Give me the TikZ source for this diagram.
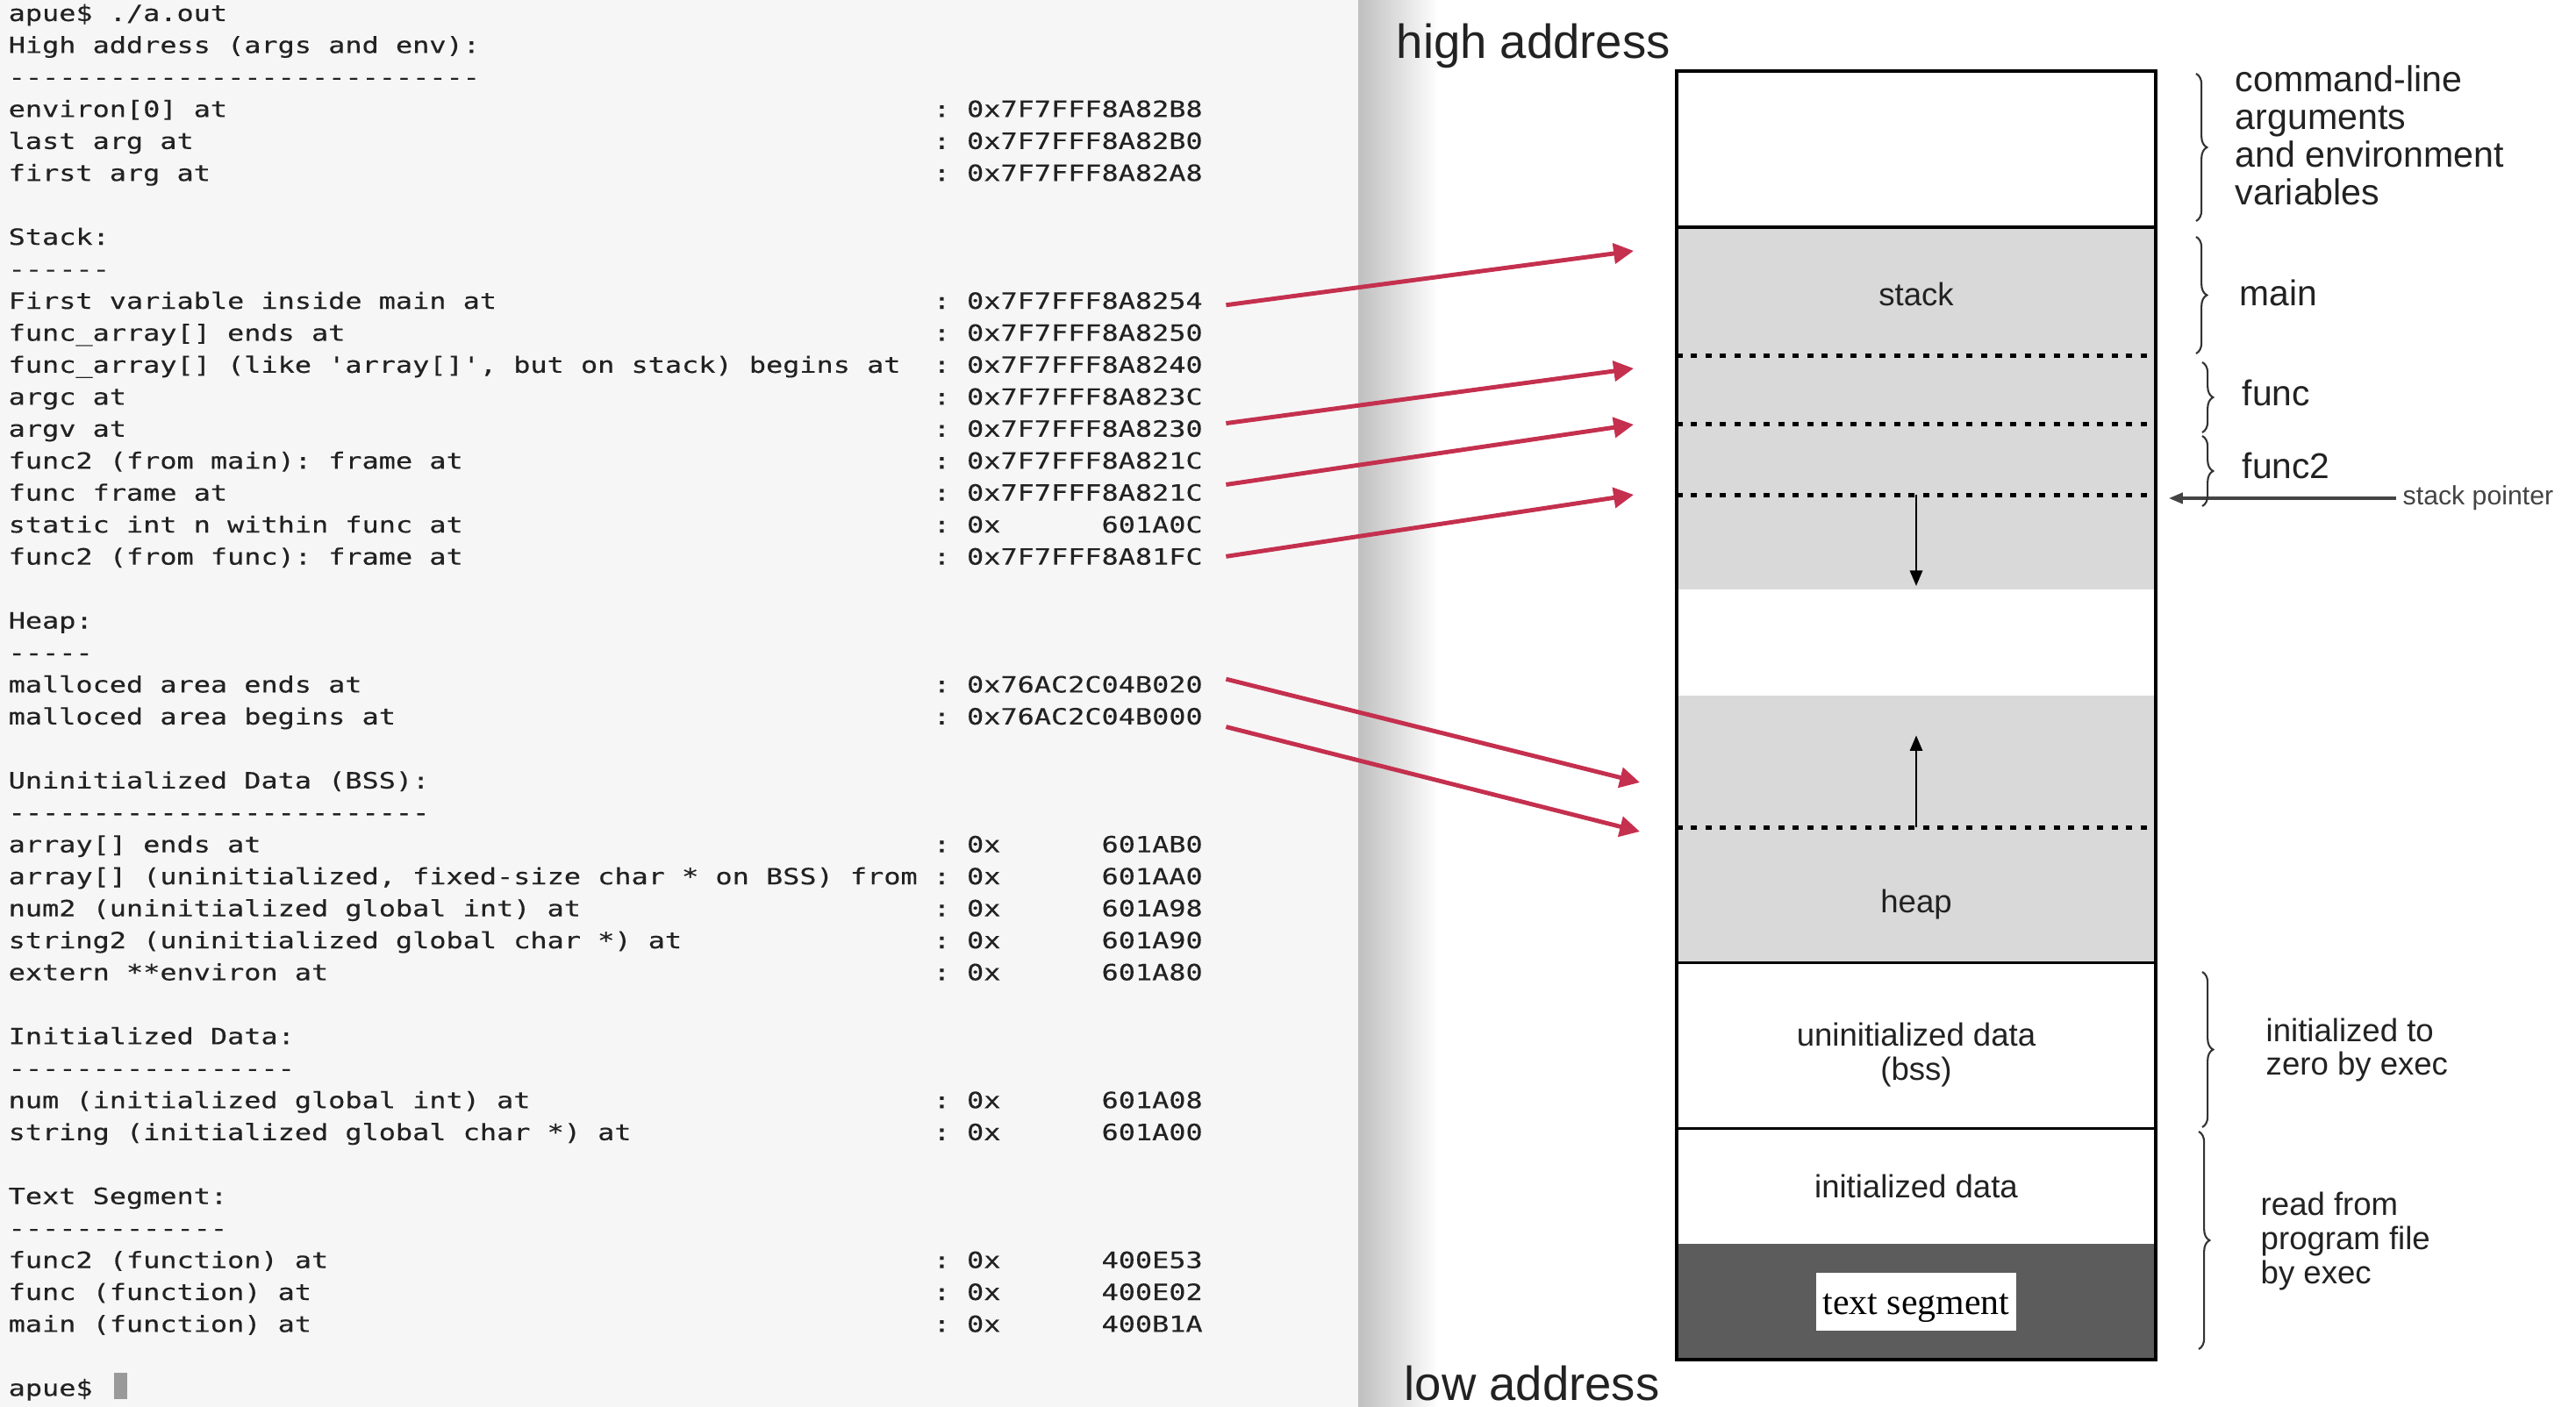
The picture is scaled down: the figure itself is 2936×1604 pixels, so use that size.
\documentclass[tikz,border=0pt]{standalone}
\usepackage{fontspec}
\setmainfont{Liberation Sans}
\setmonofont[FakeStretch=1.25, FakeBold=0.3]{DejaVu Sans Mono}
\newfontfamily\segserif{Liberation Serif}
\usetikzlibrary{positioning, calc, arrows.meta, decorations.pathreplacing}

\definecolor{termbg}{HTML}{F6F6F6}
\definecolor{termtext}{HTML}{222222}
\definecolor{memred}{RGB}{196,48,78}
\definecolor{stackgray}{HTML}{D9D9D9}
\definecolor{textgray}{HTML}{5C5C5C}
\definecolor{cursorgray}{HTML}{9A9A9A}
\definecolor{bracegray}{HTML}{333333}
\definecolor{ptrgray}{HTML}{444444}
\definecolor{notetext}{HTML}{222222}

\newcommand{\addrgap}{\hphantom{000000}}

\begin{document}
\begin{tikzpicture}[
    x=0.01cm, y=-0.01cm,
    >={Triangle[length=6.5pt, width=6.5pt]},
    node distance=0pt,
    term/.style={anchor=base west, inner sep=0pt, text=termtext, font=\fontsize{7.25}{9}\ttfamily},
    seg/.style={rectangle, minimum width=5.46cm, inner sep=0pt, outer sep=0pt, align=center, text=notetext, font=\fontsize{10.4}{11.1}\selectfont},
    lbl/.style={inner sep=0pt, align=center, text=notetext, font=\fontsize{10.4}{11.1}\selectfont},
    note/.style={anchor=west, inner sep=0pt, align=left, text=notetext},
    framedot/.style={line width=1.4pt, dash pattern=on 2pt off 2.7pt},
    memarrow/.style={->, draw=memred, line width=1.4pt},
    growarrow/.style={-{Triangle[length=5pt, width=4pt]}, line width=0.8pt},
    membrace/.style={decorate, decoration={brace, amplitude=3.5pt}, draw=bracegray, line width=0.6pt}
]

% 边界
\useasboundingbox (0,0) rectangle (2936,1604);

% 终端窗口
\fill[termbg] (0,0) rectangle (1548,1604);
\shade[left color=black!25, right color=white] (1548,0) rectangle (1640,1604);

\foreach \txt [count=\k from 0] in {
    {apue\$ ./a.out}, {High address (args and env):}, {----------------------------},
    {environ[0] at}, {last arg at}, {first arg at}, {},
    {Stack:}, {------},
    {First variable inside main at}, {func\_array[] ends at},
    {func\_array[] (like 'array[]', but on stack) begins at},
    {argc at}, {argv at}, {func2 (from main): frame at}, {func frame at},
    {static int n within func at}, {func2 (from func): frame at}, {},
    {Heap:}, {-----}, {malloced area ends at}, {malloced area begins at}, {},
    {Uninitialized Data (BSS):}, {-------------------------},
    {array[] ends at}, {array[] (uninitialized, fixed-size char * on BSS) from},
    {num2 (uninitialized global int) at}, {string2 (uninitialized global char *) at},
    {extern **environ at}, {},
    {Initialized Data:}, {-----------------},
    {num (initialized global int) at}, {string (initialized global char *) at}, {},
    {Text Segment:}, {-------------},
    {func2 (function) at}, {func (function) at}, {main (function) at}, {},
    {apue\$}}
    \node[term] (l\k) at (9, 24+36.45*\k) {\txt};

\foreach \k/\addr in {3/7F7FFF8A82B8, 4/7F7FFF8A82B0, 5/7F7FFF8A82A8,
    9/7F7FFF8A8254, 10/7F7FFF8A8250, 11/7F7FFF8A8240, 12/7F7FFF8A823C,
    13/7F7FFF8A8230, 14/7F7FFF8A821C, 15/7F7FFF8A821C, 16/\addrgap601A0C,
    17/7F7FFF8A81FC, 21/76AC2C04B020, 22/76AC2C04B000,
    26/\addrgap601AB0, 27/\addrgap601AA0, 28/\addrgap601A98, 29/\addrgap601A90,
    30/\addrgap601A80, 34/\addrgap601A08, 35/\addrgap601A00,
    39/\addrgap400E53, 40/\addrgap400E02, 41/\addrgap400B1A}
    \node[term] (a\k) at (1063, 24+36.45*\k) {: 0x\addr};

\node[fill=cursorgray, minimum width=0.15cm, minimum height=0.3cm, inner sep=0pt, right=0.23cm of l43, yshift=0.04cm] (cursor) {};

% 内存布局
\node[seg, minimum height=1.78cm] (args) at (2184,170) {};
\node[seg, minimum height=4.13cm, fill=stackgray, below=of args] (stack) {};
\node[seg, minimum height=1.21cm, below=of stack] (gap) {};
\node[seg, minimum height=3.04cm, fill=stackgray, below=of gap] (heap) {};
\node[seg, minimum height=1.89cm, below=of heap] (bss) {};
\node[seg, minimum height=1.31cm, below=of bss] (data) {initialized data};
\node[seg, minimum height=1.32cm, fill=textgray, below=of data] (textseg) {};
\node[fill=white, minimum width=2.28cm, minimum height=0.66cm, inner sep=0pt, text height=11pt, text depth=2.6pt, font=\segserif\fontsize{11.9}{12}\selectfont] (textlbl) at (textseg) {text segment};

\node[lbl, below=0.62cm of stack.north] (stacklbl) {stack};
\node[lbl, above=0.49cm of heap.south] (heaplbl) {heap};
\node[lbl, below=0.68cm of bss.north] (bsslbl) {uninitialized data\\(bss)};

\draw[line width=1.1pt] (args.north west) rectangle (textseg.south east);
\foreach \s in {args, heap, bss}
    \draw[line width=1pt] (\s.south west) -- (\s.south east);

% 栈帧分隔
\foreach \d/\n in {146/f1, 224/f2, 305/f3}
    \draw[framedot] ($(stack.north west)+(0,\d)$) coordinate (\n) -- ($(stack.north east)+(0,\d)$);
\draw[framedot] ($(heap.north west)+(0,150)$) coordinate (h1) -- ($(heap.north east)+(0,150)$);

% 增长方向
\coordinate (stackend) at ($(stack.north)+(0,409)$);
\draw[growarrow] (stack.north |- f3) -- (stackend);
\coordinate (heapend) at ($(heap.north)+(0,45)$);
\draw[growarrow] (heap.north |- h1) -- (heapend);

% 栈指针
\node[inner sep=0pt, anchor=west, text=ptrgray, font=\fontsize{8.6}{9}\selectfont] (sp) at (2738,568) {stack pointer};
\coordinate (sptip) at (2472,568);
\draw[-{Triangle[length=4.5pt, width=3.5pt]}, line width=0.9pt, draw=ptrgray, shorten <=2pt] (sp.west) -- (sptip);

% 括号与说明
\foreach \x/\a/\b in {2503/84/252, 2503/270/403, 2510/413/493, 2510/497/577, 2510/1108/1285, 2506/1290/1538}
    \draw[membrace] (\x,\a) -- (\x,\b);

\node[note, font=\fontsize{11.7}{12.2}\selectfont] (argsnote) at (2547,154) {command-line\\arguments\\and environment\\variables};
\node[note, font=\fontsize{11.6}{12}\selectfont] (mainnote) at (2552,334) {main};
\node[note, font=\fontsize{11.6}{12}\selectfont] (funcnote) at (2555,448) {func};
\node[note, font=\fontsize{11.6}{12}\selectfont] (func2note) at (2555,531) {func2};
\node[note, font=\fontsize{10.4}{10.8}\selectfont] (bssnote) at (2582,1197) {initialized to\\zero by exec};
\node[note, font=\fontsize{10.4}{11.1}\selectfont] (readnote) at (2576,1415) {read from\\program file\\by exec};

\node[note, font=\fontsize{15.5}{16}\selectfont] (high) at (1591,52) {high address};
\node[note, font=\fontsize{15.5}{16}\selectfont] (low) at (1600,1577) {low address};

% 地址箭头
\coordinate (t1) at (1862,286);
\coordinate (t2) at (1862,420);
\coordinate (t3) at (1862,484);
\coordinate (t4) at (1862,564);
\coordinate (t5) at (1869,892);
\coordinate (t6) at (1869,948);
\foreach \k/\dy/\tip in {9/5/t1, 13/-6/t2, 15/-9/t3, 17/0/t4, 21/-6/t5, 22/12/t6}
    \draw[memarrow] ([shift={(26,\dy)}]a\k.east) -- (\tip);

\end{tikzpicture}
\end{document}
